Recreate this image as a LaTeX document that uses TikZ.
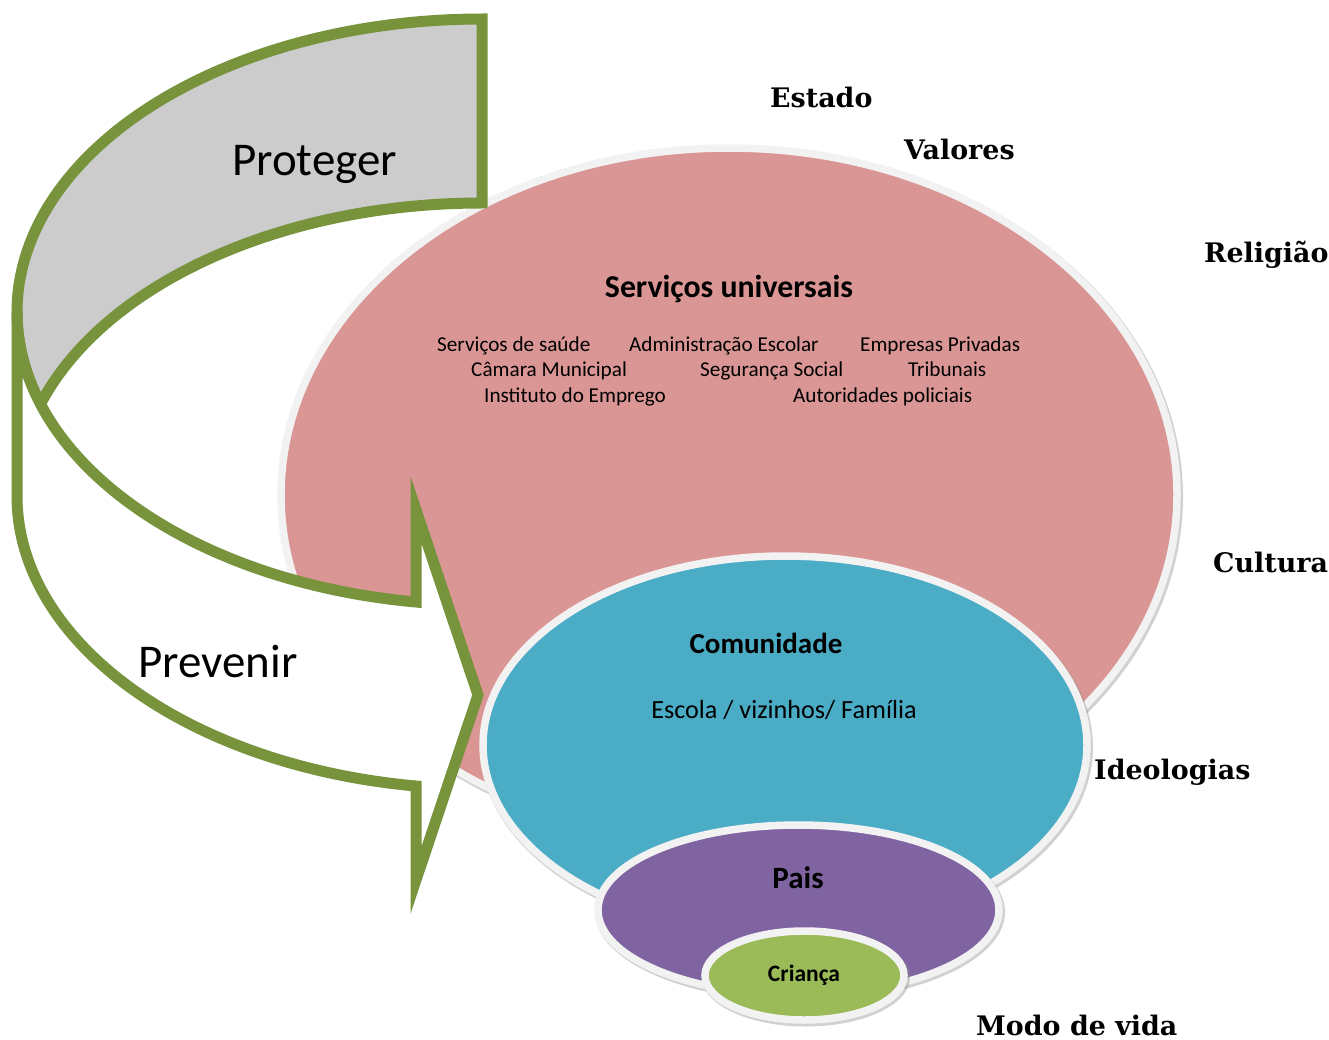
\documentclass[tikz,border=0pt]{standalone}
\usepackage{fontspec}
\setmainfont{Carlito}
\newfontfamily\labfont{DejaVu Serif}
\definecolor{pinkc}{HTML}{D99694}
\definecolor{bluec}{HTML}{4BACC6}
\definecolor{purpc}{HTML}{8064A2}
\definecolor{greenc}{HTML}{9BBB59}
\definecolor{arrowc}{HTML}{77933C}
\definecolor{bandc}{HTML}{CCCCCC}
\definecolor{rimc}{HTML}{F2F2F2}
\newcommand\layerellipse[5]{%
  \fill[black!45, opacity=.4] (#1+1.5,-#2-2) ellipse [x radius=#3+4.5, y radius=#4+4.5];
  \filldraw[fill=#5, draw=rimc, line width=7.5pt] (#1,-#2) ellipse [x radius=#3, y radius=#4];}
\begin{document}
\begin{tikzpicture}[x=1pt,y=1pt,line join=miter,
  arrowline/.style={draw=arrowc, line width=11pt, line join=miter, miter limit=12},
  lab/.style={font={\labfont\bfseries\fontsize{26.9}{30}\selectfont}, inner sep=0, text depth=0pt, anchor=base west},
  big/.style={font={\fontsize{47}{56}\selectfont}, inner sep=0, anchor=base west},
  item/.style={font={\fontsize{21.2}{25}\selectfont}, inner sep=0, anchor=base west},
  head/.style={font={\bfseries\fontsize{#1}{#1}\selectfont}, inner sep=0, anchor=base}]
\useasboundingbox (0,0) rectangle (1329,-1039);

% outer circle
\layerellipse{729}{495}{448}{347}{pinkc}

% curved arrow: back band
\filldraw[arrowline, fill=bandc] (482,-19)
  arc[start angle=90, end angle=198.3, x radius=465, y radius=293]
  arc[start angle=161.7, end angle=90, x radius=465, y radius=293] -- cycle;
% curved arrow: front band with head (left end left open so the joins stay flat)
\filldraw[arrowline, fill=white] (17,-312) -- (17,-496)
  arc[start angle=180, end angle=261.84, x radius=465, y radius=293]
  -- (416,-880) -- (478,-695) -- (416,-510) -- (416,-602)
  arc[start angle=261.84, end angle=180, x radius=465, y radius=293];

% inner circles
\layerellipse{785}{745}{302}{189}{bluec}
\layerellipse{798.5}{910}{200.5}{85}{purpc}
\layerellipse{804.5}{975.5}{99.5}{44.5}{greenc}

% arrow labels
\node[big] (proteger) at (232,-175) {Proteger};
\node[big] (prevenir) at (138,-677) {Prevenir};

% outer circle text
\node[head=31.8] (servicos) at (729,-297) {Serviços universais};
\node[item] (saude) at (437,-351) {Serviços de saúde};
\node[item] (admin) at (629,-351) {Administração Escolar};
\node[item] (empresas) at (860,-351) {Empresas Privadas};
\node[item] (camara) at (471,-376) {Câmara Municipal};
\node[item] (seguranca) at (700,-376) {Segurança Social};
\node[item] (tribunais) at (908,-376) {Tribunais};
\node[item] (instituto) at (484,-402) {Instituto do Emprego};
\node[item] (policia) at (793,-402) {Autoridades policiais};

% community
\node[head=29] (comunidade) at (766,-653) {Comunidade};
\node[font={\fontsize{26.2}{30}\selectfont}, inner sep=0, anchor=base] (escola) at (784,-718) {Escola / vizinhos/ Família};
\node[head=31] (pais) at (798,-888) {Pais};
\node[head=23.5] (crianca) at (804,-981) {Criança};

% outer labels
\node[lab] (estado) at (770,-107) {Estado};
\node[lab] (valores) at (904,-159) {Valores};
\node[lab] (religiao) at (1204,-262) {Religião};
\node[lab] (cultura) at (1213,-572) {Cultura};
\node[lab] (ideologias) at (1094,-779) {Ideologias};
\node[lab] (modo) at (976,-1035) {Modo de vida};
\end{tikzpicture}
\end{document}
